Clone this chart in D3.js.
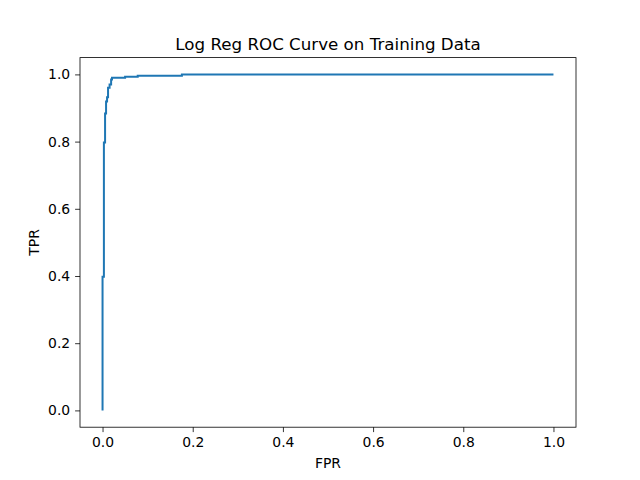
<!DOCTYPE html>
<html lang="en">
<head>
    <meta charset="UTF-8">
    <title>Log Reg ROC Curve on Training Data</title>
    <style>
        body {
            margin: 0;
            background: #fff;
        }
        svg text {
            font-family: "DejaVu Sans", sans-serif;
            fill: #000;
        }
        .axis path, .axis line {
            stroke: #000;
            stroke-width: 0.8px;
        }
        .axis text {
            font-size: 13.9px;
        }
        .curve {
            fill: none;
            stroke: #1f77b4;
            stroke-width: 2px;
            stroke-linejoin: miter;
        }
    </style>
</head>
<body>
    <svg id="chart" width="640" height="480"></svg>
    <script src="https://d3js.org/d3.v7.min.js"></script>
    <script>
        // ROC step points
        const fpr = [0, 0, 0.003, 0.003, 0.0056, 0.0056, 0.0078, 0.0078, 0.01, 0.01,
            0.0122, 0.0122, 0.0156, 0.0156, 0.019, 0.019, 0.021, 0.021,
            0.05, 0.05, 0.078, 0.078, 0.176, 0.176, 1.0];
        const tpr = [0, 0.398, 0.398, 0.797, 0.797, 0.884, 0.884, 0.919, 0.919, 0.932,
            0.932, 0.96, 0.96, 0.97, 0.97, 0.985, 0.985, 0.99,
            0.99, 0.993, 0.993, 0.996, 0.996, 1.0, 1.0];
        const xTicks = [0, 0.2, 0.4, 0.6, 0.8, 1.0];
        const yTicks = [0, 0.2, 0.4, 0.6, 0.8, 1.0];

        const margin = { left: 80, right: 64, top: 57.6, bottom: 52.8 };
        const width = 640, height = 480;

        const svg = d3.select("#chart");

        const x = d3.scaleLinear()
            .domain([-0.05, 1.05])
            .range([margin.left, width - margin.right]);
        const y = d3.scaleLinear()
            .domain([-0.05, 1.05])
            .range([height - margin.bottom, margin.top]);

        const pts = fpr.map((f, i) => [f, tpr[i]]);

        svg.append("path")
            .datum(pts)
            .attr("class", "curve")
            .attr("d", d3.line().x(d => x(d[0])).y(d => y(d[1])));

        // frame
        svg.append("rect")
            .attr("x", margin.left)
            .attr("y", margin.top)
            .attr("width", width - margin.left - margin.right)
            .attr("height", height - margin.top - margin.bottom)
            .attr("fill", "none")
            .attr("stroke", "#000")
            .attr("stroke-width", 0.8);

        const xAxis = svg.append("g")
            .attr("class", "axis")
            .attr("transform", `translate(0,${height - margin.bottom})`)
            .call(d3.axisBottom(x).tickValues(xTicks).tickFormat(d3.format(".1f"))
                .tickSize(4.9).tickPadding(4.9));
        xAxis.select(".domain").remove();

        const yAxis = svg.append("g")
            .attr("class", "axis")
            .attr("transform", `translate(${margin.left},0)`)
            .call(d3.axisLeft(y).tickValues(yTicks).tickFormat(d3.format(".1f"))
                .tickSize(4.9).tickPadding(4.9));
        yAxis.select(".domain").remove();

        svg.append("text")
            .attr("x", (margin.left + width - margin.right) / 2)
            .attr("y", 49.5)
            .attr("text-anchor", "middle")
            .style("font-size", "16.7px")
            .text("Log Reg ROC Curve on Training Data");

        svg.append("text")
            .attr("x", (margin.left + width - margin.right) / 2)
            .attr("y", 467.5)
            .attr("text-anchor", "middle")
            .style("font-size", "13.9px")
            .text("FPR");

        svg.append("text")
            .attr("transform", `translate(39,${(margin.top + height - margin.bottom) / 2}) rotate(-90)`)
            .attr("text-anchor", "middle")
            .style("font-size", "13.9px")
            .text("TPR");
    </script>
</body>
</html>
